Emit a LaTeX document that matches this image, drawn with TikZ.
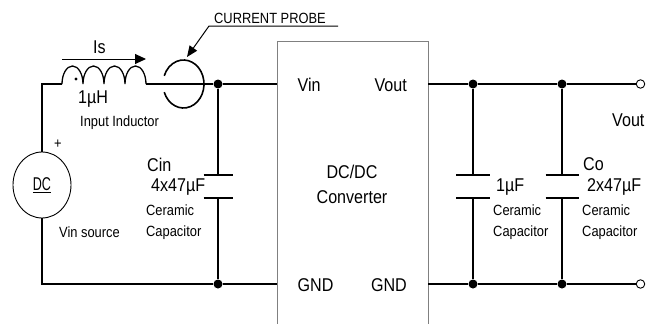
\documentclass[tikz,border=0pt]{standalone}
\usepackage{fontspec}
\setmainfont[FakeStretch=0.87]{Liberation Sans}
\usetikzlibrary{arrows.meta,shapes.geometric}

\begin{document}
\begin{tikzpicture}[x=1pt,y=-1pt]
	\tikzset{wire/.style = {line width=1.1pt}}
	\tikzset{plate/.style = {line width=2.8pt}}
	\tikzset{dot/.style = {circle,fill,inner sep=0pt,minimum size=9pt}}
	\tikzset{term/.style = {circle,draw,fill=white,line width=0.9pt,inner sep=0pt,minimum size=8.5pt}}
	\tikzset{lbl/.style = {inner sep=0pt,anchor=base west,font=\fontsize{18.5}{20}\selectfont}}
	\tikzset{note/.style = {inner sep=0pt,anchor=base west,font=\fontsize{14.8}{16}\selectfont}}
	\useasboundingbox (0,0) rectangle (662,324);
	% converter box (open at the bottom)
	\coordinate (bxbl) at (277,324);
	\coordinate (bxtl) at (277,41);
	\coordinate (bxtr) at (428,41);
	\coordinate (bxbr) at (428,324);
	\draw[gray,line width=1pt] (bxbl) -- (bxtl) -- (bxtr) -- (bxbr);
	\coordinate (pvin) at (277,84);
	\coordinate (pgndl) at (277,284);
	\coordinate (pvout) at (428,84);
	\coordinate (pgndr) at (428,284);
	% input side
	\node[draw,ellipse,line width=0.9pt,minimum width=58pt,minimum height=66pt,inner sep=0pt,font=\fontsize{18.5}{20}\selectfont] (src) at (42,185) {\scalebox{0.78}[1]{\underline{DC}}};
	\coordinate (lt) at (42,84);
	\coordinate (lb) at (42,284);
	\coordinate (L1) at (62,84);
	\coordinate (L2) at (146,84);
	\node[dot] (jin) at (218,84) {};
	\node[dot] (jgnd) at (218,284) {};
	\coordinate (cit) at (218,175);
	\coordinate (cib) at (218,198);
	\draw[wire] (L1) -- (lt) -- (src);
	\draw[wire] (src) -- (lb) -- (jgnd) -- (pgndl);
	\draw[wire] (L2) -- (jin) -- (pvin);
	\draw[wire] (jin) -- (cit);
	\draw[wire] (cib) -- (jgnd);
	\draw[line width=1.3pt] (L1) arc[start angle=180,end angle=0,x radius=10.5pt,y radius=18pt]
		arc[start angle=180,end angle=0,x radius=10.5pt,y radius=18pt]
		arc[start angle=180,end angle=0,x radius=10.5pt,y radius=18pt]
		arc[start angle=180,end angle=0,x radius=10.5pt,y radius=18pt];
	\fill (76,79) circle[radius=1.6pt];
	% current probe
	\coordinate (pr) at (183.5,84);
	\draw[line width=1.6pt] ([shift={(-160:20.5pt and 24pt)}]pr) arc[start angle=-160,end angle=160,x radius=20.5pt,y radius=24pt];
	\coordinate (ur) at (338,26);
	\coordinate (ul) at (209,26);
	\coordinate (tip) at (187,57);
	\draw[line width=1pt,-{Triangle[length=11pt,width=9pt]}] (ur) -- (ul) -- (tip);
	\coordinate (isa) at (62,59);
	\coordinate (isb) at (146,59);
	\draw[line width=1pt,-{Triangle[length=11pt,width=10pt]}] (isa) -- (isb);
	% output side
	\node[dot] (j1t) at (473,84) {};
	\node[dot] (j1b) at (473,284) {};
	\node[dot] (j2t) at (562,84) {};
	\node[dot] (j2b) at (562,284) {};
	\node[term] (tt) at (640.5,84) {};
	\node[term] (tb) at (640.5,284) {};
	\coordinate (c1t) at (473,175);
	\coordinate (c1b) at (473,198);
	\coordinate (c2t) at (562,175);
	\coordinate (c2b) at (562,198);
	\draw[wire] (pvout) -- (j1t) -- (j2t) -- (tt);
	\draw[wire] (pgndr) -- (j1b) -- (j2b) -- (tb);
	\draw[wire] (j1t) -- (c1t);
	\draw[wire] (c1b) -- (j1b);
	\draw[wire] (j2t) -- (c2t);
	\draw[wire] (c2b) -- (j2b);
	\foreach \cp/\w in {ci/14.5,c1/17,c2/16.5} {
		\draw[plate] ([xshift=-\w pt]\cp t) -- ([xshift=\w pt]\cp t);
		\draw[plate] ([xshift=-\w pt]\cp b) -- ([xshift=\w pt]\cp b);
	}
	% labels
	\node[note] (tprobe) at (214,23.3) {CURRENT PROBE};
	\node[lbl] (tis) at (93,53.3) {Is};
	\node[lbl] (tind) at (78,103.3) {1µH};
	\node[note] (tindn) at (80,126) {Input Inductor};
	\node[note] (tplus) at (54,148) {+};
	\node[note] (tsrc) at (59,237) {Vin source};
	\node[lbl] (tcin) at (147,171.5) {Cin};
	\node[lbl] (tcinv) at (151,191.5) {4x47µF};
	\node[note] (tcin1) at (146,215.5) {Ceramic};
	\node[note] (tcin2) at (146,236) {Capacitor};
	\node[lbl] (tvin) at (297.5,91.7) {Vin};
	\node[lbl] (tgndl) at (297.5,291.7) {GND};
	\node[lbl,anchor=base east] (tvout) at (407,91) {Vout};
	\node[lbl,anchor=base east] (tgndr) at (407,291.7) {GND};
	\node[lbl,anchor=base] (tdc) at (352,178.5) {DC/DC};
	\node[lbl,anchor=base] (tconv) at (352,203) {Converter};
	\node[lbl] (tc1v) at (496,191.5) {1µF};
	\node[note] (tc1a) at (493,215.5) {Ceramic};
	\node[note] (tc1b) at (493,236) {Capacitor};
	\node[lbl] (tco) at (583,170.5) {Co};
	\node[lbl] (tcov) at (587,191.5) {2x47µF};
	\node[note] (tco1) at (582,215.5) {Ceramic};
	\node[note] (tco2) at (582,236) {Capacitor};
	\node[lbl] (tout) at (612,126.5) {Vout};
\end{tikzpicture}
\end{document}
